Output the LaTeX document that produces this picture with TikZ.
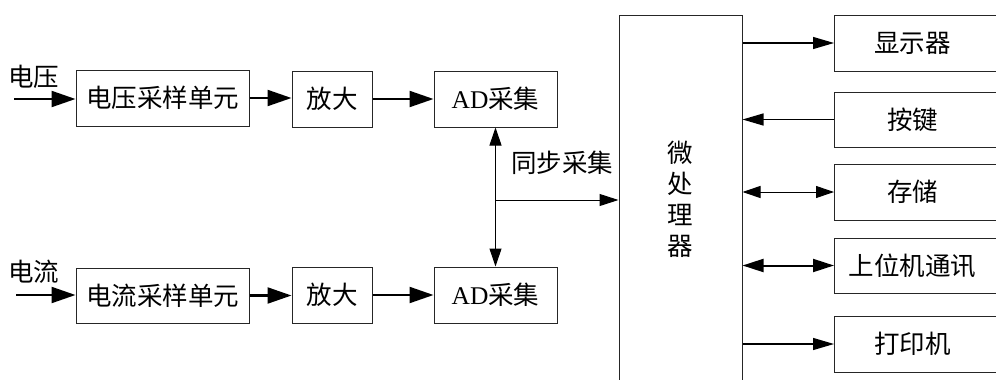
\documentclass[tikz,border=0pt]{standalone}
\usepackage{fontspec}
\setmainfont{Liberation Serif}
\newfontfamily\cjk{Noto Sans CJK SC}
\usetikzlibrary{arrows.meta}
\begin{document}
\begin{tikzpicture}[x=1pt,y=-1pt,
  box/.style={draw=black!85, line width=1pt, inner sep=0pt, font=\cjk\fontsize{25.5}{28}\selectfont},
  lbl/.style={inner sep=0pt, font=\cjk\fontsize{25.5}{28}\selectfont},
  bigarrow/.style={line width=2.2pt, -{Triangle[length=24pt,width=16pt]}},
  midarrow/.style={line width=1.2pt, -{Triangle[length=21pt,width=12pt]}},
  smallarrow/.style={line width=1pt, {Triangle[length=18pt,width=12pt]}-{Triangle[length=18pt,width=12pt]}},
  commarrow/.style={line width=2pt, {Triangle[length=21pt,width=13pt]}-{Triangle[length=21pt,width=13pt]}},
  ]
\useasboundingbox[fill=white] (0,0) rectangle (996,380);

% left chain, top
\node[lbl] (vlab) at (34,77) {电压};
\coordinate (vin) at (14,99);
\node[box, minimum width=173pt, minimum height=56pt] (vs) at (162.5,98) {电压采样单元};
\node[box, minimum width=80pt, minimum height=56pt] (amp1) at (332,99) {放大};
\node[box, minimum width=123pt, minimum height=56pt] (ad1) at (495.5,99) {{\rmfamily AD}采集};

% left chain, bottom
\node[lbl] (ilab) at (34,272) {电流};
\coordinate (iin) at (16,295);
\node[box, minimum width=173pt, minimum height=55pt] (cs) at (162.5,295.5) {电流采样单元};
\node[box, minimum width=80pt, minimum height=56pt] (amp2) at (332,295) {放大};
\node[box, minimum width=123pt, minimum height=56pt] (ad2) at (495.5,295) {{\rmfamily AD}采集};

% microprocessor (open at bottom)
\node[box, minimum width=123pt, minimum height=385pt, anchor=north] (mcu) at (680.5,15) {};
\node[lbl, align=center, font=\cjk\fontsize{25.5}{31}\selectfont] (mcut) at (680,199) {微\\处\\理\\器};

% right boxes
\node[box, minimum width=164pt, minimum height=56pt, anchor=west] (disp) at (834,43) {\hspace*{-8pt}显示器};
\node[box, minimum width=164pt, minimum height=55pt, anchor=west] (key) at (834,119.5) {\hspace*{-8pt}按键};
\node[box, minimum width=164pt, minimum height=56pt, anchor=west] (store) at (834,192) {\hspace*{-8pt}存储};
\node[box, minimum width=164pt, minimum height=55pt, anchor=west] (comm) at (834,265.5) {\hspace*{-8pt}上位机通讯};
\node[box, minimum width=164pt, minimum height=56pt, anchor=west] (print) at (834,344) {\hspace*{-8pt}打印机};

% sync label
\node[lbl, anchor=west] (synclab) at (511,163) {同步采集};

% connectors
\draw[bigarrow] (vin) -- (vs.west |- vin);
\draw[bigarrow] (vs.east) -- (amp1.west |- vs.east);
\draw[bigarrow] (amp1.east) -- (ad1.west |- amp1.east);
\draw[bigarrow] (iin) -- (cs.west |- iin);
\draw[bigarrow] (cs.east) -- (amp2.west |- cs.east);
\draw[bigarrow] (amp2.east) -- (ad2.west |- amp2.east);

\draw[smallarrow] (ad1.south) -- (ad2.north);
\coordinate (sync) at (496,200);
\draw[line width=1pt, -{Triangle[length=19pt,width=12pt]}] (sync) -- (mcu.west |- sync);

\draw[midarrow] (mcu.east |- disp.west) -- (disp.west);
\draw[midarrow] (key.west) -- (mcu.east |- key.west);
\draw[smallarrow] (mcu.east |- store.west) -- (store.west);
\draw[commarrow] (mcu.east |- comm.west) -- (comm.west);
\draw[midarrow] (mcu.east |- print.west) -- (print.west);
\end{tikzpicture}
\end{document}
